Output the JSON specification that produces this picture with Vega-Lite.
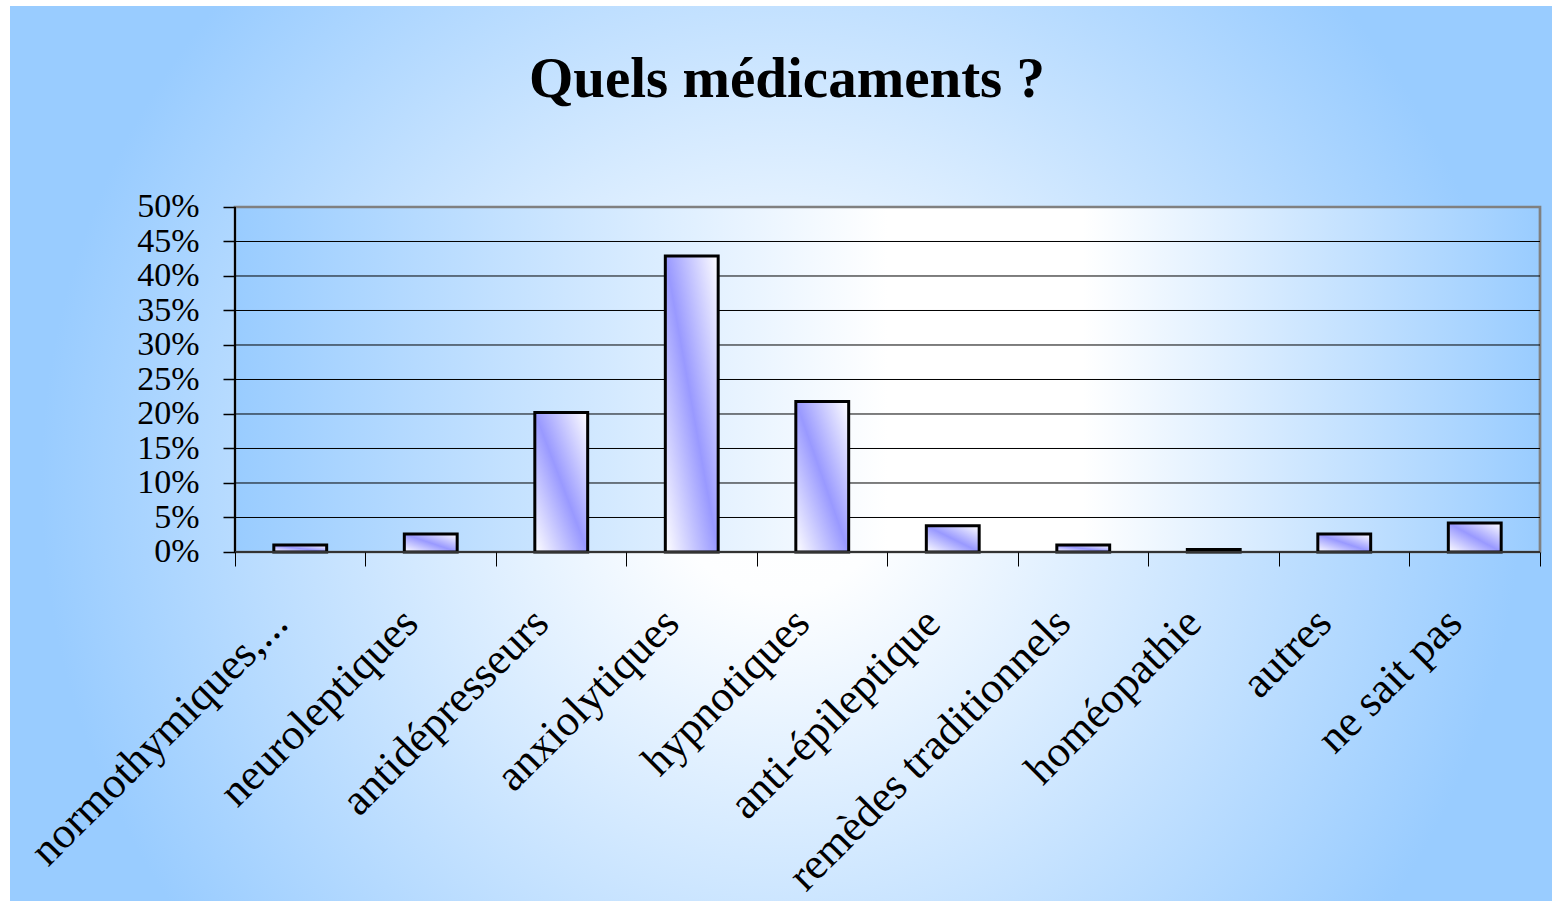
{
  "$schema": "https://vega.github.io/schema/vega-lite/v6.json",
  "width": 1542,
  "height": 895,
  "autosize": {"type": "none"},
  "padding": {"left": 10, "top": 6, "right": 0, "bottom": 0},
  "background": "white",
  "title": {
    "text": "Quels médicaments ?",
    "font": "Liberation Serif",
    "fontSize": 57,
    "fontWeight": "bold",
    "color": "#000000",
    "anchor": "middle",
    "frame": "group",
    "offset": -148,
    "baseline": "alphabetic",
    "dx": 6
  },
  "config": {
    "view": {
      "stroke": null,
      "fill": {
        "gradient": "radial",
        "x1": 0.5, "y1": 0.52, "r1": 0,
        "x2": 0.5, "y2": 0.52, "r2": 0.48,
        "stops": [
          {"offset": 0, "color": "#ffffff"},
          {"offset": 0.15, "color": "#fdfeff"},
          {"offset": 1, "color": "#99ccff"}
        ]
      }
    }
  },
  "datasets": {
    "meds": [
      {"medicament": "normothymiques,...", "pct": 0.010},
      {"medicament": "neuroleptiques", "pct": 0.026},
      {"medicament": "antidépresseurs", "pct": 0.202},
      {"medicament": "anxiolytiques", "pct": 0.429},
      {"medicament": "hypnotiques", "pct": 0.218},
      {"medicament": "anti-épileptique", "pct": 0.038},
      {"medicament": "remèdes traditionnels", "pct": 0.010},
      {"medicament": "homéopathie", "pct": 0.0036},
      {"medicament": "autres", "pct": 0.026},
      {"medicament": "ne sait pas", "pct": 0.042}
    ],
    "grid": [
      {"v": 0.05}, {"v": 0.10}, {"v": 0.15}, {"v": 0.20}, {"v": 0.25},
      {"v": 0.30}, {"v": 0.35}, {"v": 0.40}, {"v": 0.45}
    ],
    "one": [{"k": 1}]
  },
  "layer": [
    {
      "data": {"name": "one"},
      "mark": {
        "type": "rect",
        "stroke": "#808080",
        "strokeWidth": 2.7,
        "fill": {
          "gradient": "linear",
          "x1": 0, "y1": 0, "x2": 1, "y2": 0,
          "stops": [
            {"offset": 0, "color": "#99ccff"},
            {"offset": 0.5, "color": "#ffffff"},
            {"offset": 0.65, "color": "#ffffff"},
            {"offset": 1, "color": "#99ccff"}
          ]
        }
      },
      "encoding": {
        "x": {"datum": "normothymiques,...", "type": "nominal", "bandPosition": 0, "title": null,
              "scale": {"domain": ["normothymiques,...", "neuroleptiques", "antidépresseurs", "anxiolytiques", "hypnotiques", "anti-épileptique", "remèdes traditionnels", "homéopathie", "autres", "ne sait pas"], "paddingInner": 0, "paddingOuter": 0.908046, "align": 0.949367, "round": false}},
        "x2": {"datum": "ne sait pas", "bandPosition": 1},
        "y": {"datum": 0, "type": "quantitative", "title": null, "scale": {"domain": [-0.505797, 0.791304], "nice": false, "zero": false}},
        "y2": {"datum": 0.5}
      }
    },
    {
      "data": {"name": "grid"},
      "mark": {"type": "rule", "color": "#000000", "strokeWidth": 1},
      "encoding": {
        "x": {"datum": "normothymiques,...", "type": "nominal", "bandPosition": 0, "title": null,
              "scale": {"domain": ["normothymiques,...", "neuroleptiques", "antidépresseurs", "anxiolytiques", "hypnotiques", "anti-épileptique", "remèdes traditionnels", "homéopathie", "autres", "ne sait pas"], "paddingInner": 0, "paddingOuter": 0.908046, "align": 0.949367, "round": false}},
        "x2": {"datum": "ne sait pas", "bandPosition": 1},
        "y": {"field": "v", "type": "quantitative", "title": null, "scale": {"domain": [-0.505797, 0.791304], "nice": false, "zero": false}}
      }
    },
    {
      "data": {"name": "meds"},
      "mark": {
        "type": "bar",
        "width": {"band": 0.405},
        "stroke": "#000000",
        "strokeWidth": 3,
        "fill": {
          "gradient": "linear",
          "x1": 0, "y1": 1, "x2": 1, "y2": 0,
          "stops": [
            {"offset": 0, "color": "#ffffff"},
            {"offset": 0.5, "color": "#9999ff"},
            {"offset": 1, "color": "#ffffff"}
          ]
        }
      },
      "encoding": {
        "x": {
          "field": "medicament", "type": "nominal", "title": null,
          "scale": {"domain": ["normothymiques,...", "neuroleptiques", "antidépresseurs", "anxiolytiques", "hypnotiques", "anti-épileptique", "remèdes traditionnels", "homéopathie", "autres", "ne sait pas"], "paddingInner": 0, "paddingOuter": 0.908046, "align": 0.949367, "round": false},
          "axis": {
            "orient": "bottom", "offset": -349, "title": null, "domain": false, "grid": false,
            "tickBand": "extent", "ticks": true, "tickSize": 14, "tickColor": "#000000", "tickWidth": 1,
            "labelAngle": -45, "labelAlign": "right", "labelBaseline": "middle",
            "labelFont": "Liberation Serif", "labelFontSize": 44, "labelColor": "#000000",
            "labelPadding": 50, "labelOffset": -20, "labelLimit": 0, "labelOverlap": false, "labelBound": false,
            "zindex": 2
          }
        },
        "y": {
          "field": "pct", "type": "quantitative", "title": null,
          "scale": {"domain": [-0.505797, 0.791304], "nice": false, "zero": false},
          "axis": {
            "orient": "left", "offset": -225, "title": null, "domain": false, "grid": false,
            "values": [0, 0.05, 0.1, 0.15, 0.2, 0.25, 0.3, 0.35, 0.4, 0.45, 0.5],
            "format": ".0%", "tickSize": 12, "tickColor": "#000000", "tickWidth": 1.5,
            "labelFont": "Liberation Serif", "labelFontSize": 34, "labelColor": "#000000",
            "labelPadding": 24, "labelOverlap": false, "labelFlush": false, "zindex": 2
          }
        },
        "y2": {"datum": 0}
      }
    },
    {
      "data": {"name": "one"},
      "mark": {"type": "rule", "color": "#000000", "strokeWidth": 2},
      "encoding": {
        "x": {"datum": "normothymiques,...", "type": "nominal", "bandPosition": 0, "title": null,
              "scale": {"domain": ["normothymiques,...", "neuroleptiques", "antidépresseurs", "anxiolytiques", "hypnotiques", "anti-épileptique", "remèdes traditionnels", "homéopathie", "autres", "ne sait pas"], "paddingInner": 0, "paddingOuter": 0.908046, "align": 0.949367, "round": false}},
        "y": {"datum": 0, "type": "quantitative", "title": null, "scale": {"domain": [-0.505797, 0.791304], "nice": false, "zero": false}},
        "y2": {"datum": 0.5}
      }
    },
    {
      "data": {"name": "one"},
      "mark": {"type": "rule", "color": "#333333", "strokeWidth": 2},
      "encoding": {
        "x": {"datum": "normothymiques,...", "type": "nominal", "bandPosition": 0, "title": null,
              "scale": {"domain": ["normothymiques,...", "neuroleptiques", "antidépresseurs", "anxiolytiques", "hypnotiques", "anti-épileptique", "remèdes traditionnels", "homéopathie", "autres", "ne sait pas"], "paddingInner": 0, "paddingOuter": 0.908046, "align": 0.949367, "round": false}},
        "x2": {"datum": "ne sait pas", "bandPosition": 1},
        "y": {"datum": 0, "type": "quantitative", "title": null, "scale": {"domain": [-0.505797, 0.791304], "nice": false, "zero": false}}
      }
    }
  ]
}
